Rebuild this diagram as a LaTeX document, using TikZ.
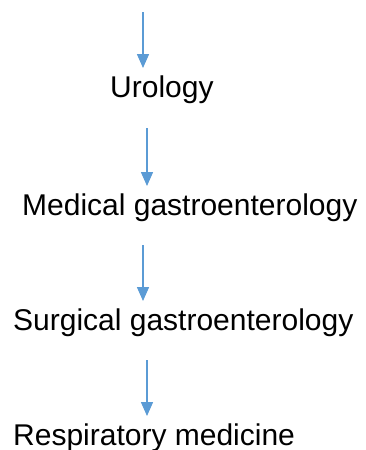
\documentclass[tikz,border=0pt]{standalone}
\usepackage{fontspec}
\setmainfont{Liberation Sans}
\usetikzlibrary{arrows.meta}
\definecolor{arrowblue}{RGB}{91,155,213}
\tikzset{
  label/.style={anchor=base west, inner sep=0pt, font=\fontsize{30}{36}\selectfont, text=black},
  flow/.style={draw=arrowblue, line width=1.5pt, -{Triangle[width=12pt,length=14pt]}}
}
\begin{document}
\begin{tikzpicture}[x=1pt,y=-1pt]
\useasboundingbox (0,0) rectangle (365,450);
\node[label] (uro) at (110,97) {Urology};
\node[label] (med) at (22,215) {Medical gastroenterology};
\node[label] (surg) at (13,330) {Surgical gastroenterology};
\node[label] (resp) at (13,445) {Respiratory medicine};
\coordinate (a1s) at (143,12);
\coordinate (a1e) at (143,68);
\coordinate (a2s) at (147,128);
\coordinate (a2e) at (147,186);
\coordinate (a3s) at (143,245);
\coordinate (a3e) at (143,301);
\coordinate (a4s) at (147,360);
\coordinate (a4e) at (147,416);
\draw[flow] (a1s) -- (a1e);
\draw[flow] (a2s) -- (a2e);
\draw[flow] (a3s) -- (a3e);
\draw[flow] (a4s) -- (a4e);
\end{tikzpicture}
\end{document}
